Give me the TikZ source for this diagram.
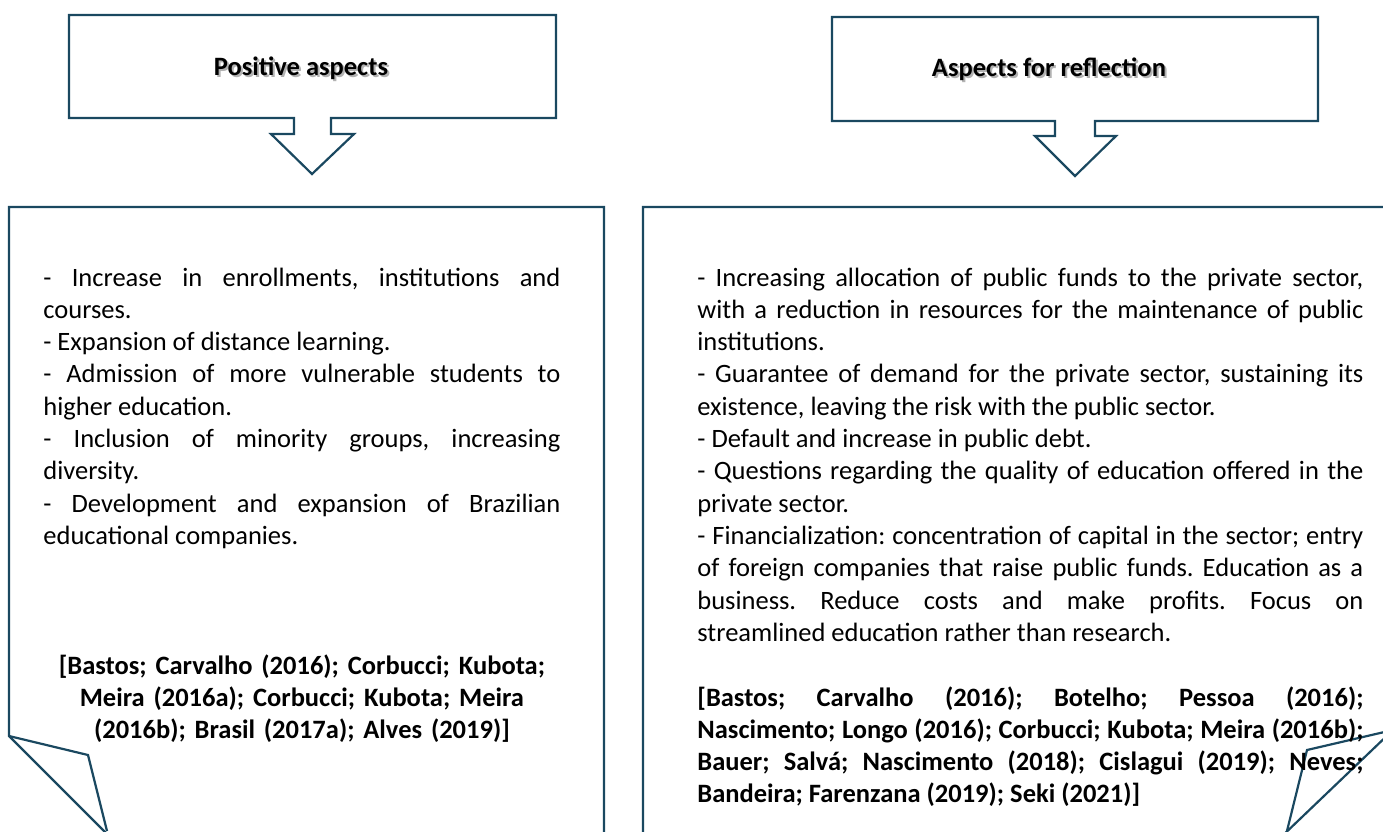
\documentclass[tikz,border=0pt]{standalone}
\usepackage{fontspec}
\setmainfont{Carlito}
\usepackage{tikz}
\usetikzlibrary{positioning}
\hyphenpenalty=10000
\exhyphenpenalty=10000
\frenchspacing
\definecolor{frame}{RGB}{26,72,96}
\colorlet{shade}{black!30}
\def\txt{\fontsize{13.25pt}{16.15pt}\selectfont}
\tikzset{box/.style={draw=frame,line width=1.1pt,line join=miter}}
\tikzset{title/.style={font=\txt\bfseries,inner sep=0pt,anchor=base}}
\tikzset{body/.style={font=\txt,inner sep=0pt,align=justify,anchor=base west}}
\tikzset{refs/.style={body,font=\txt\bfseries}}

\begin{document}
\begin{tikzpicture}[x=0.5pt,y=-0.5pt]
  \useasboundingbox (0,0) rectangle (1383,831);
  \clip (0,0) rectangle (1383,831);
  % callouts
  \draw[box] (69,15) -- (556,15) -- (556,118) -- (331,118) -- (331,134) -- (354,134)
    -- (312,174) -- (271,134) -- (294,134) -- (294,118) -- (69,118) -- cycle;
  \draw[box] (832,17) -- (1318,17) -- (1318,121) -- (1095,121) -- (1095,136) -- (1116,136)
    -- (1075,176) -- (1035,136) -- (1055,136) -- (1055,121) -- (832,121) -- cycle;
  \node[title,text=shade] (posShade) at (303,77) {Positive aspects};
  \node[title] (pos) at (301,75) {Positive aspects};
  \node[title,text=shade] (reflShade) at (1051,78) {Aspects for reflection};
  \node[title] (refl) at (1049,76) {Aspects for reflection};
  % folded boxes
  \draw[box] (604,840) -- (604,207) -- (9,207) -- (9,736) -- (113,840);
  \draw[box] (9,736) -- (88,755) -- (107,831);
  \draw[box] (643,840) -- (643,207) -- (1393,207) -- (1393,730) -- (1278,840);
  \draw[box] (1393,730) -- (1307,750) -- (1286,835);
  \node[body,text width=258.5pt] (posBody) at (43,286) {%
    - Increase in enrollments, institutions and\linebreak courses.\\
    - Expansion of distance learning.\\
    - Admission of more vulnerable students to\linebreak higher education.\\
    - Inclusion of minority groups, increasing\linebreak diversity.\\
    - Development and expansion of Brazilian\linebreak educational companies.};
  \node[refs,text width=258.5pt,align=center] (posRefs) at (43,674) {%
    [Bastos; Carvalho (2016); Corbucci; Kubota;\\
    Meira (2016a); Corbucci; Kubota; Meira\\
    (2016b); Brasil (2017a); Alves (2019)]};
  \node[body,text width=333pt] (reflBody) at (697,286) {%
    - Increasing allocation of public funds to the private sector,\linebreak
    with a reduction in resources for the maintenance of public\linebreak institutions.\\
    - Guarantee of demand for the private sector, sustaining its\linebreak
    existence, leaving the risk with the public sector.\\
    - Default and increase in public debt.\\
    - Questions regarding the quality of education offered in the\linebreak private sector.\\
    - Financialization: concentration of capital in the sector; entry\linebreak
    of foreign companies that raise public funds. Education as a\linebreak
    business. Reduce costs and make profits. Focus on\linebreak
    streamlined education rather than research.};
  \node[refs,text width=333pt] (reflRefs) at (697,706) {%
    [Bastos; Carvalho (2016); Botelho; Pessoa (2016);\linebreak
    Nascimento; Longo (2016); Corbucci; Kubota; Meira (2016b);\linebreak
    Bauer; Salvá; Nascimento (2018); Cislagui (2019); Neves;\linebreak
    Bandeira; Farenzana (2019); Seki (2021)]};
\end{tikzpicture}
\end{document}
